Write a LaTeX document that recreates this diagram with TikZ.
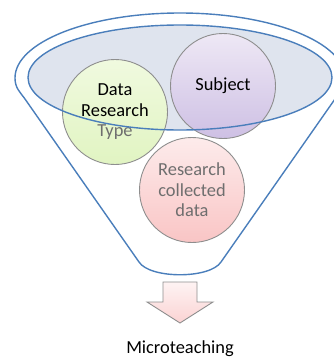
\documentclass[tikz,border=0pt]{standalone}
\usepackage{fontspec}
\setmainfont{Carlito}
\begin{document}
\begin{tikzpicture}[x=1pt,y=-1pt,
  funnelline/.style={draw=funnelblue, line width=1.4pt},
  bubble/.style={circle, draw=bubblegray, line width=0.9pt, minimum size=105pt, inner sep=0pt,
    align=center, font=\fontsize{18.4}{20.5}\selectfont},
  caption/.style={font=\fontsize{18.4}{21}\selectfont, text=black}]
\definecolor{funnelblue}{HTML}{4A7EBB}
\definecolor{rimfill}{HTML}{DFE4EE}
\definecolor{bubblegray}{HTML}{8E8E8E}
\definecolor{softtext}{HTML}{6E6E6E}
\definecolor{greentop}{HTML}{F0FADF}
\definecolor{greenbot}{HTML}{E1F4C2}
\definecolor{purpletop}{HTML}{EEE8F5}
\definecolor{purplebot}{HTML}{CEC0E4}
\definecolor{pinktop}{HTML}{FDEBEB}
\definecolor{pinkbot}{HTML}{F9C5C5}
\definecolor{arrowtop}{HTML}{FEF3F3}
\definecolor{arrowbot}{HTML}{FBD3D3}

\useasboundingbox (0,0) rectangle (334,359);
\begin{scope}
\clip (0,0) rectangle (334,359);
% funnel outline: upper half of the rim ellipse, sides and rounded spout
\draw[funnelline, line join=round]
  (15,78) .. controls (15,42.1) and (88.9,13) .. (180,13)
          .. controls (271.1,13) and (345,42.1) .. (345,78)
          .. controls (345,88) and (340,92) .. (335,99)
          -- (221,262) .. controls (210,279) and (150,279) .. (139,262)
          -- (25,99) .. controls (20,92) and (15,88) .. (15,78) -- cycle;
% inner rim: filled first, stroked after the bubbles
\fill[rimfill] (180,77.5) ellipse [x radius=152, y radius=52.5];
\end{scope}

\node[bubble, top color=greentop, bottom color=greenbot] (type) at (115,112)
  {Data\\Research\\\textcolor{softtext}{Type}};
\node[bubble, top color=purpletop, bottom color=purplebot] (subject) at (223,86) {Subject};
\node[bubble, top color=pinktop, bottom color=pinkbot, text=softtext] (collected) at (192,190)
  {Research\\collected\\data};

\draw[funnelline] (180,77.5) ellipse [x radius=152, y radius=52.5];

% output arrow below the spout
\draw[draw=bubblegray, line width=0.9pt, top color=arrowtop, bottom color=arrowbot, line join=miter]
  (163,282) -- (197,282) -- (197,302) -- (213,302) -- (180,323) -- (147,302) -- (163,302) -- cycle;

\node[caption] (micro) at (180,349) {Microteaching};
\end{tikzpicture}
\end{document}
